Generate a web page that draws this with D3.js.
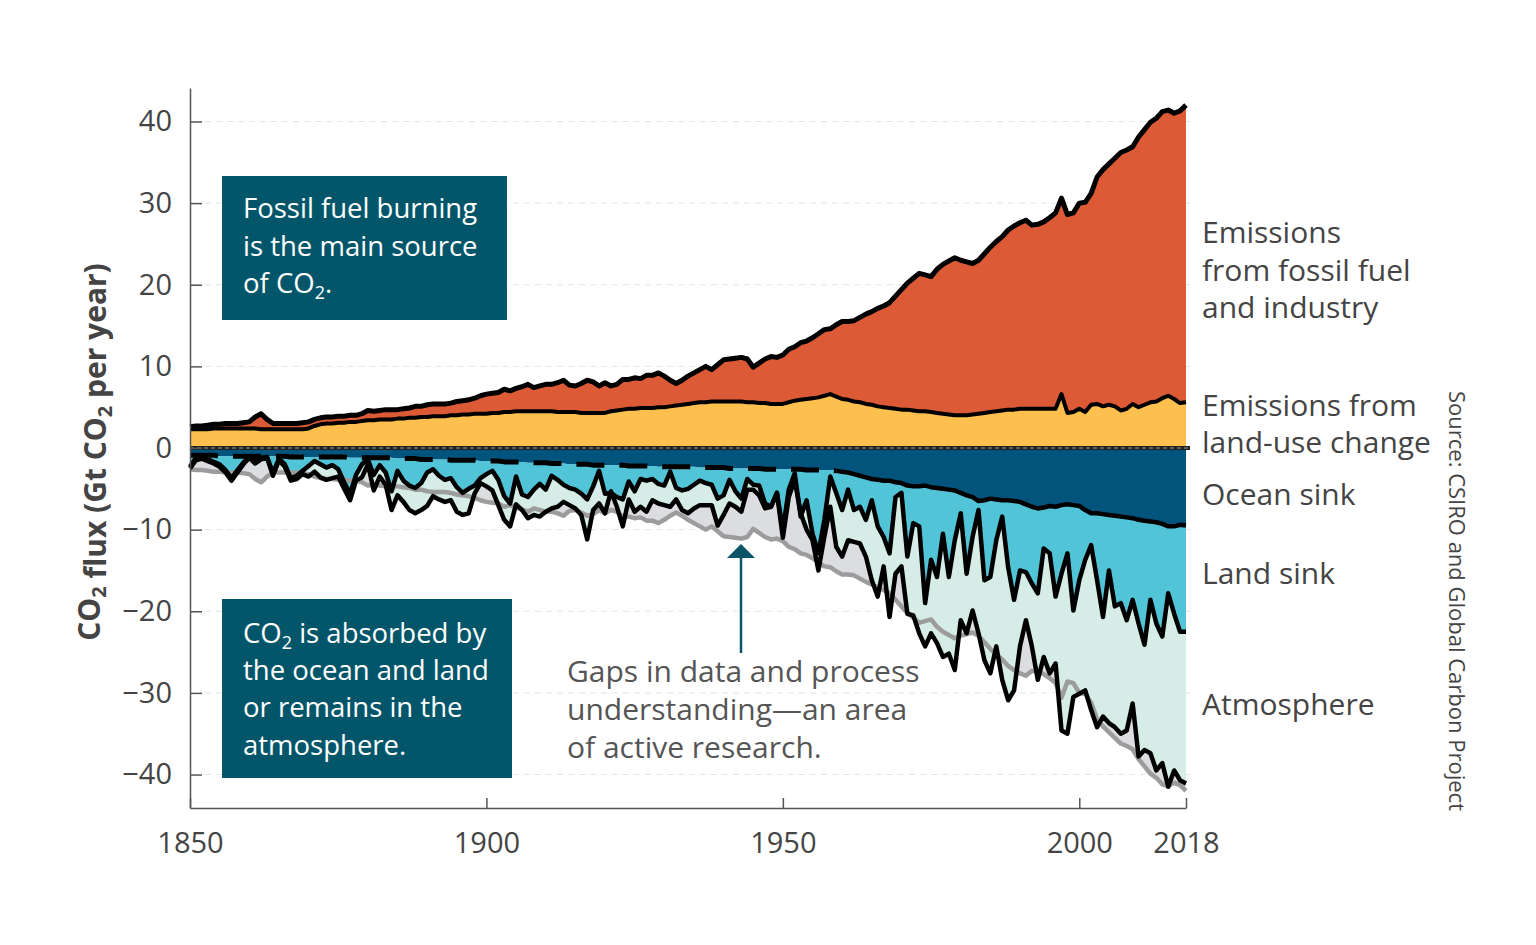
<!DOCTYPE html>
<html>
<head>
<meta charset="utf-8">
<style>
  body { margin: 0; background: #fff; }
  svg { display: block; font-family: "Open Sans", "Noto Sans", sans-serif; }
  .axis path, .axis line { stroke: #555; stroke-width: 1.5; }
  .axis text { font-size: 29px; fill: #444; font-family: "Open Sans", sans-serif; }
  .grid { stroke: #e4e4e4; stroke-width: 1; stroke-dasharray: 6 5; }
  .box-text { font-size: 27.5px; fill: #fff; }
  .label { font-size: 30px; fill: #444; }
  .note { font-size: 30px; fill: #555; }
</style>
</head>
<body>
<script src="https://d3js.org/d3.v7.min.js"></script>
<script>
// Gt CO2 per year, one value per year 1850..2018
const years = d3.range(1850, 2019);

// fossil fuel + land-use change (top black line, and the grey mirror line)
const emissionsTotal = [
  2.6, 2.7, 2.7, 2.8, 2.9, 2.9, 3.0, 3.0, 3.0, 3.1,
  3.2, 3.8, 4.2, 3.5, 3.0, 3.0, 3.0, 3.0, 3.0, 3.1,
  3.2, 3.5, 3.7, 3.8, 3.8, 3.9, 3.9, 4.0, 4.0, 4.2,
  4.6, 4.5, 4.6, 4.7, 4.7, 4.7, 4.8, 4.9, 5.1, 5.1,
  5.3, 5.4, 5.4, 5.4, 5.5, 5.7, 5.8, 5.9, 6.1, 6.4,
  6.6, 6.7, 6.8, 7.2, 7.0, 7.3, 7.5, 7.8, 7.4, 7.6,
  7.8, 7.8, 8.0, 8.3, 7.7, 7.6, 7.9, 8.3, 8.1, 7.6,
  8.0, 7.6, 7.8, 8.4, 8.4, 8.6, 8.5, 8.9, 8.9, 9.2,
  8.8, 8.3, 7.9, 8.3, 8.8, 9.2, 9.6, 10.0, 9.6, 10.2,
  10.8, 10.9, 11.0, 11.1, 10.9, 9.9, 10.4, 10.9, 11.2, 11.1,
  11.4, 12.1, 12.4, 12.9, 13.1, 13.5, 14.0, 14.5, 14.6, 15.1,
  15.5, 15.5, 15.6, 16.0, 16.4, 16.7, 17.1, 17.4, 17.8, 18.6,
  19.4, 20.2, 20.8, 21.4, 21.2, 21.0, 21.9, 22.5, 22.9, 23.3,
  23.0, 22.8, 22.6, 23.0, 23.8, 24.6, 25.3, 25.9, 26.7, 27.2,
  27.6, 27.9, 27.3, 27.4, 27.7, 28.2, 28.8, 30.6, 28.6, 28.8,
  30.0, 30.1, 31.2, 33.2, 34.1, 34.8, 35.5, 36.2, 36.5, 36.9,
  38.1, 39.0, 39.9, 40.4, 41.2, 41.4, 41.0, 41.3, 42.0
];

// emissions from land-use change
const landUse = [
  2.3, 2.3, 2.3, 2.3, 2.4, 2.4, 2.4, 2.4, 2.4, 2.4,
  2.4, 2.4, 2.3, 2.3, 2.3, 2.3, 2.3, 2.3, 2.3, 2.3,
  2.4, 2.7, 2.9, 3.0, 3.0, 3.1, 3.1, 3.2, 3.2, 3.3,
  3.4, 3.4, 3.5, 3.5, 3.5, 3.6, 3.6, 3.7, 3.7, 3.8,
  3.8, 3.9, 3.9, 3.9, 4.0, 4.0, 4.1, 4.1, 4.2, 4.2,
  4.2, 4.3, 4.3, 4.4, 4.4, 4.5, 4.5, 4.5, 4.5, 4.5,
  4.5, 4.5, 4.4, 4.4, 4.4, 4.4, 4.3, 4.3, 4.3, 4.3,
  4.3, 4.5, 4.6, 4.7, 4.8, 4.8, 4.9, 4.9, 4.9, 5.0,
  5.0, 5.1, 5.2, 5.3, 5.4, 5.5, 5.6, 5.6, 5.7, 5.7,
  5.7, 5.7, 5.7, 5.7, 5.6, 5.6, 5.5, 5.5, 5.4, 5.4,
  5.4, 5.6, 5.8, 5.9, 6.0, 6.1, 6.2, 6.4, 6.6, 6.3,
  6.0, 5.9, 5.7, 5.6, 5.4, 5.3, 5.1, 5.0, 4.9, 4.8,
  4.7, 4.7, 4.6, 4.5, 4.5, 4.4, 4.3, 4.2, 4.1, 4.0,
  4.0, 4.0, 4.1, 4.2, 4.3, 4.4, 4.5, 4.6, 4.7, 4.7,
  4.8, 4.8, 4.8, 4.8, 4.8, 4.8, 4.8, 6.6, 4.3, 4.4,
  4.8, 4.4, 5.3, 5.4, 5.1, 5.3, 5.1, 4.6, 4.8, 5.4,
  5.0, 5.3, 5.6, 5.7, 6.1, 6.4, 6.0, 5.5, 5.6
];

// ocean sink (size, drawn downward)
const oceanSink = [
  0.9, 0.9, 0.9, 0.9, 0.9, 1.0, 1.0, 1.0, 1.0, 1.0,
  1.0, 1.0, 1.0, 1.0, 1.0, 1.0, 1.0, 1.1, 1.1, 1.1,
  1.1, 1.1, 1.1, 1.1, 1.1, 1.1, 1.1, 1.2, 1.2, 1.2,
  1.2, 1.2, 1.2, 1.2, 1.2, 1.3, 1.3, 1.3, 1.3, 1.4,
  1.4, 1.4, 1.4, 1.4, 1.5, 1.5, 1.5, 1.5, 1.5, 1.6,
  1.6, 1.6, 1.6, 1.7, 1.7, 1.7, 1.7, 1.8, 1.8, 1.8,
  1.8, 1.9, 1.9, 1.9, 2.0, 2.0, 2.0, 2.0, 2.1, 2.1,
  2.1, 2.1, 2.1, 2.1, 2.2, 2.2, 2.2, 2.2, 2.2, 2.3,
  2.3, 2.3, 2.3, 2.3, 2.3, 2.3, 2.4, 2.4, 2.4, 2.4,
  2.4, 2.5, 2.5, 2.5, 2.5, 2.5, 2.5, 2.6, 2.6, 2.6,
  2.6, 2.6, 2.6, 2.6, 2.7, 2.7, 2.7, 2.7, 2.7, 2.8,
  2.9, 3.0, 3.2, 3.4, 3.6, 3.8, 3.9, 4.0, 4.0, 4.2,
  4.3, 4.6, 4.7, 4.7, 4.6, 4.8, 4.9, 5.0, 5.1, 5.2,
  5.5, 5.8, 6.0, 6.5, 6.4, 6.2, 6.3, 6.4, 6.4, 6.5,
  6.6, 6.9, 7.2, 7.4, 7.3, 7.1, 7.2, 7.0, 6.9, 7.0,
  7.1, 7.6, 8.0, 8.0, 8.1, 8.2, 8.3, 8.4, 8.5, 8.6,
  8.8, 8.9, 9.0, 9.1, 9.3, 9.6, 9.6, 9.4, 9.5
];

// ocean + land sink (upper jagged black line)
const oceanLandSink = [
  2.3, 1.2, 1.1, 1.4, 1.7, 2.0, 2.7, 3.7, 2.7, 1.8,
  1.1, 1.6, 1.2, 1.1, 3.1, 1.3, 2.0, 3.7, 3.4, 2.8,
  2.2, 1.6, 2.0, 2.4, 2.1, 2.6, 4.2, 5.6, 3.3, 2.0,
  1.4, 3.3, 2.1, 3.0, 5.3, 2.8, 4.0, 4.6, 4.9, 4.3,
  3.0, 2.6, 3.4, 3.9, 3.7, 4.8, 5.5, 5.0, 4.6, 3.7,
  3.2, 2.8, 3.9, 5.9, 6.8, 3.5, 5.7, 6.0, 5.1, 4.4,
  5.1, 3.4, 3.9, 4.5, 4.9, 5.1, 5.6, 6.3, 4.7, 2.8,
  5.6, 5.5, 6.0, 6.3, 4.1, 5.3, 3.8, 4.0, 3.8, 4.4,
  4.6, 2.9, 4.9, 5.2, 5.0, 4.5, 4.0, 4.3, 4.5, 6.2,
  5.8, 3.9, 5.3, 6.2, 3.8, 4.5, 4.6, 6.8, 7.2, 5.5,
  10.0, 5.1, 3.1, 8.4, 6.4, 10.5, 12.9, 8.8, 3.5, 5.5,
  7.6, 5.1, 7.6, 7.2, 8.8, 6.4, 9.6, 10.9, 12.9, 6.0,
  5.5, 13.3, 9.2, 9.6, 19.0, 13.7, 15.8, 10.5, 15.8, 11.3,
  8.0, 15.4, 10.9, 7.6, 16.2, 15.8, 11.3, 8.4, 14.6, 18.6,
  15.0, 15.2, 16.6, 17.8, 12.3, 12.9, 18.2, 15.4, 12.9, 19.9,
  16.2, 13.7, 11.9, 16.2, 20.7, 15.0, 19.4, 19.0, 21.1, 18.6,
  21.5, 24.1, 18.6, 21.5, 23.1, 17.8, 20.3, 22.5, 22.5
];

// ocean + land + atmosphere (lower jagged black line)
const oceanLandAtmos = [
  2.5, 1.5, 1.3, 1.6, 1.9, 2.3, 3.0, 4.0, 3.0, 2.0,
  1.2, 1.9, 1.4, 1.2, 3.4, 1.5, 2.3, 4.0, 3.8, 3.2,
  3.5, 2.9, 3.6, 3.9, 3.7, 3.5, 5.0, 6.4, 4.0, 3.6,
  2.0, 5.2, 3.5, 4.5, 7.6, 5.8, 6.6, 7.6, 8.0, 7.6,
  7.1, 5.9, 6.3, 6.6, 6.4, 7.8, 8.2, 8.0, 5.6, 4.3,
  4.7, 5.2, 7.0, 8.8, 9.6, 6.9, 7.6, 8.6, 8.2, 8.4,
  7.8, 7.4, 7.2, 6.6, 7.0, 7.4, 8.2, 11.2, 7.6, 6.8,
  8.0, 5.3, 7.2, 9.6, 6.3, 7.8, 7.2, 7.8, 6.4, 6.8,
  7.0, 7.2, 6.3, 7.6, 8.0, 7.4, 7.0, 7.0, 7.0, 9.5,
  8.2, 6.8, 7.2, 7.8, 5.1, 5.1, 5.8, 7.4, 7.2, 5.5,
  11.0, 6.0, 3.9, 8.0, 10.0, 11.3, 15.0, 10.9, 7.2, 12.1,
  13.3, 11.3, 11.5, 11.7, 13.3, 16.2, 18.2, 14.5, 20.7, 15.4,
  14.5, 20.3, 20.5, 22.7, 24.3, 22.7, 23.9, 25.6, 25.2, 27.2,
  21.1, 22.7, 19.9, 22.7, 26.0, 27.6, 24.3, 28.4, 30.9, 29.7,
  24.3, 21.1, 24.3, 28.4, 25.6, 27.6, 26.4, 34.6, 35.0, 30.5,
  30.1, 29.7, 32.1, 34.2, 32.9, 33.7, 34.2, 35.0, 34.6, 31.3,
  37.8, 37.0, 37.4, 39.5, 38.6, 41.5, 39.5, 40.7, 41.1
];

const xTicks = [1850, 1900, 1950, 2000, 2018];
const yTicks = [-40, -30, -20, -10, 0, 10, 20, 30, 40];
const oceanModelEnd = 1959;   // dashed ocean line before this year

const width = 1536, height = 945;

const svg = d3.select('body').append('svg')
  .attr('width', width)
  .attr('height', height);

const x = d3.scaleLinear().domain([1850, 2018]).range([190, 1186]);
const y = d3.scaleLinear().domain([-44.1, 44.1]).range([808, 88]);

const idx = years.map((d, i) => i);

// grid
svg.append('g').selectAll('line')
  .data(yTicks.filter(d => d !== 0))
  .join('line')
  .attr('class', 'grid')
  .attr('x1', 205).attr('x2', 1192)
  .attr('y1', d => y(d)).attr('y2', d => y(d));

function band(lo, hi) {
  return d3.area()
    .x(i => x(years[i]))
    .y0(i => y(lo(i)))
    .y1(i => y(hi(i)));
}
function trace(v) {
  return d3.line().x(i => x(years[i])).y(i => y(v(i)));
}

const areas = svg.append('g');
// budget imbalance (grey) first, then the sinks over it
areas.append('path').attr('d', band(i => 0, i => -emissionsTotal[i])(idx)).attr('fill', '#dcdde0');
areas.append('path').attr('d', band(i => 0, i => -oceanSink[i])(idx)).attr('fill', '#02547c');
areas.append('path').attr('d', band(i => -oceanSink[i], i => -oceanLandSink[i])(idx)).attr('fill', '#52c4d8');
areas.append('path').attr('d', band(i => -oceanLandSink[i], i => -oceanLandAtmos[i])(idx)).attr('fill', '#d5ece7');
areas.append('path').attr('d', band(i => 0, i => landUse[i])(idx)).attr('fill', '#fdc04e');
areas.append('path').attr('d', band(i => landUse[i], i => emissionsTotal[i])(idx)).attr('fill', '#dc5a36');

const lines = svg.append('g').attr('fill', 'none')
  .attr('stroke-linejoin', 'round');

lines.append('path')
  .attr('d', trace(i => -emissionsTotal[i])(idx))
  .attr('stroke', '#9c9c9c').attr('stroke-width', 4.5);

lines.append('path')
  .attr('d', trace(i => -oceanLandAtmos[i])(idx))
  .attr('stroke', '#000').attr('stroke-width', 4.5);
lines.append('path')
  .attr('d', trace(i => -oceanLandSink[i])(idx))
  .attr('stroke', '#000').attr('stroke-width', 4.5);

const early = idx.filter(i => years[i] <= oceanModelEnd);
const late = idx.filter(i => years[i] >= oceanModelEnd);
lines.append('path')
  .attr('d', trace(i => -oceanSink[i])(early))
  .attr('stroke', '#000').attr('stroke-width', 5)
  .attr('stroke-dasharray', '28 15');
lines.append('path')
  .attr('d', trace(i => -oceanSink[i])(late))
  .attr('stroke', '#000').attr('stroke-width', 4.5);

lines.append('path')
  .attr('d', trace(i => landUse[i])(idx))
  .attr('stroke', '#000').attr('stroke-width', 4);
lines.append('path')
  .attr('d', trace(i => emissionsTotal[i])(idx))
  .attr('stroke', '#000').attr('stroke-width', 5);

// zero line
svg.append('line')
  .attr('x1', 190).attr('x2', 1190)
  .attr('y1', y(0)).attr('y2', y(0))
  .attr('stroke', '#222').attr('stroke-width', 4);
svg.append('line')
  .attr('x1', 190).attr('x2', 1190)
  .attr('y1', y(0)).attr('y2', y(0))
  .attr('stroke', '#9a9a9a').attr('stroke-width', 1.2)
  .attr('stroke-dasharray', '4 3');

// axes
svg.append('g')
  .attr('class', 'axis')
  .attr('transform', 'translate(190,0)')
  .call(d3.axisLeft(y)
    .tickValues(yTicks)
    .tickSizeInner(-12)
    .tickSizeOuter(0)
    .tickPadding(18)
    .tickFormat(d => d < 0 ? '\u2212' + Math.abs(d) : d));

svg.append('g')
  .attr('class', 'axis')
  .attr('transform', 'translate(0,808)')
  .call(d3.axisBottom(x)
    .tickValues(xTicks)
    .tickSizeInner(-10)
    .tickSizeOuter(0)
    .tickPadding(24)
    .tickFormat(d3.format('d')));

// y title with subscripts
const yTitle = svg.append('text')
  .attr('transform', 'translate(100,452) rotate(-90)')
  .attr('text-anchor', 'middle')
  .attr('font-size', 30)
  .attr('font-weight', 'bold')
  .attr('fill', '#444');
function addCO2(t, after, big) {
  const s = big ? 20 : 18;
  t.append('tspan').text('CO');
  t.append('tspan').text('2').attr('font-size', s).attr('dy', 6);
  t.append('tspan').text(after).attr('dy', -6);
}
addCO2(yTitle.append('tspan'), '', true);
yTitle.append('tspan').text(' flux (Gt ');
addCO2(yTitle.append('tspan'), ' per year)', true);

// boxes
const box1 = svg.append('g');
box1.append('rect').attr('x', 222).attr('y', 176).attr('width', 285).attr('height', 144).attr('fill', '#03566a');
box1.append('text').attr('class', 'box-text').attr('x', 243).attr('y', 218).text('Fossil fuel burning');
box1.append('text').attr('class', 'box-text').attr('x', 243).attr('y', 256).text('is the main source');
const b1l3 = box1.append('text').attr('class', 'box-text').attr('x', 243).attr('y', 293);
b1l3.append('tspan').text('of ');
addCO2(b1l3.append('tspan'), '.');

const box2 = svg.append('g');
box2.append('rect').attr('x', 222).attr('y', 599).attr('width', 290).attr('height', 179).attr('fill', '#03566a');
const b2l1 = box2.append('text').attr('class', 'box-text').attr('x', 243).attr('y', 643);
addCO2(b2l1.append('tspan'), ' is absorbed by');
box2.append('text').attr('class', 'box-text').attr('x', 243).attr('y', 680).text('the ocean and land');
box2.append('text').attr('class', 'box-text').attr('x', 243).attr('y', 717).text('or remains in the');
box2.append('text').attr('class', 'box-text').attr('x', 243).attr('y', 755).text('atmosphere.');

// series labels on the right
const rightLabels = [
  ['Emissions', 243], ['from fossil fuel', 281], ['and industry', 318],
  ['Emissions from', 416], ['land-use change', 453],
  ['Ocean sink', 505], ['Land sink', 584], ['Atmosphere', 715]
];
svg.append('g').selectAll('text')
  .data(rightLabels)
  .join('text')
  .attr('class', 'label')
  .attr('x', 1202)
  .attr('y', d => d[1])
  .text(d => d[0]);

// annotation + arrow
const noteLines = [
  ['Gaps in data and process', 682],
  ['understanding\u2014an area', 720],
  ['of active research.', 758]
];
svg.append('g').selectAll('text')
  .data(noteLines)
  .join('text')
  .attr('class', 'note')
  .attr('x', 567)
  .attr('y', d => d[1])
  .text(d => d[0]);

svg.append('line')
  .attr('x1', 741).attr('x2', 741)
  .attr('y1', 653).attr('y2', 556)
  .attr('stroke', '#0b5568').attr('stroke-width', 2.5);
svg.append('path')
  .attr('d', 'M741,544 L755,558 L727,558 Z')
  .attr('fill', '#0b5568');

// source
svg.append('text')
  .attr('transform', 'translate(1449,391) rotate(90)')
  .attr('font-size', 22)
  .attr('fill', '#444')
  .text('Source: CSIRO and Global Carbon Project');
</script>
</body>
</html>
